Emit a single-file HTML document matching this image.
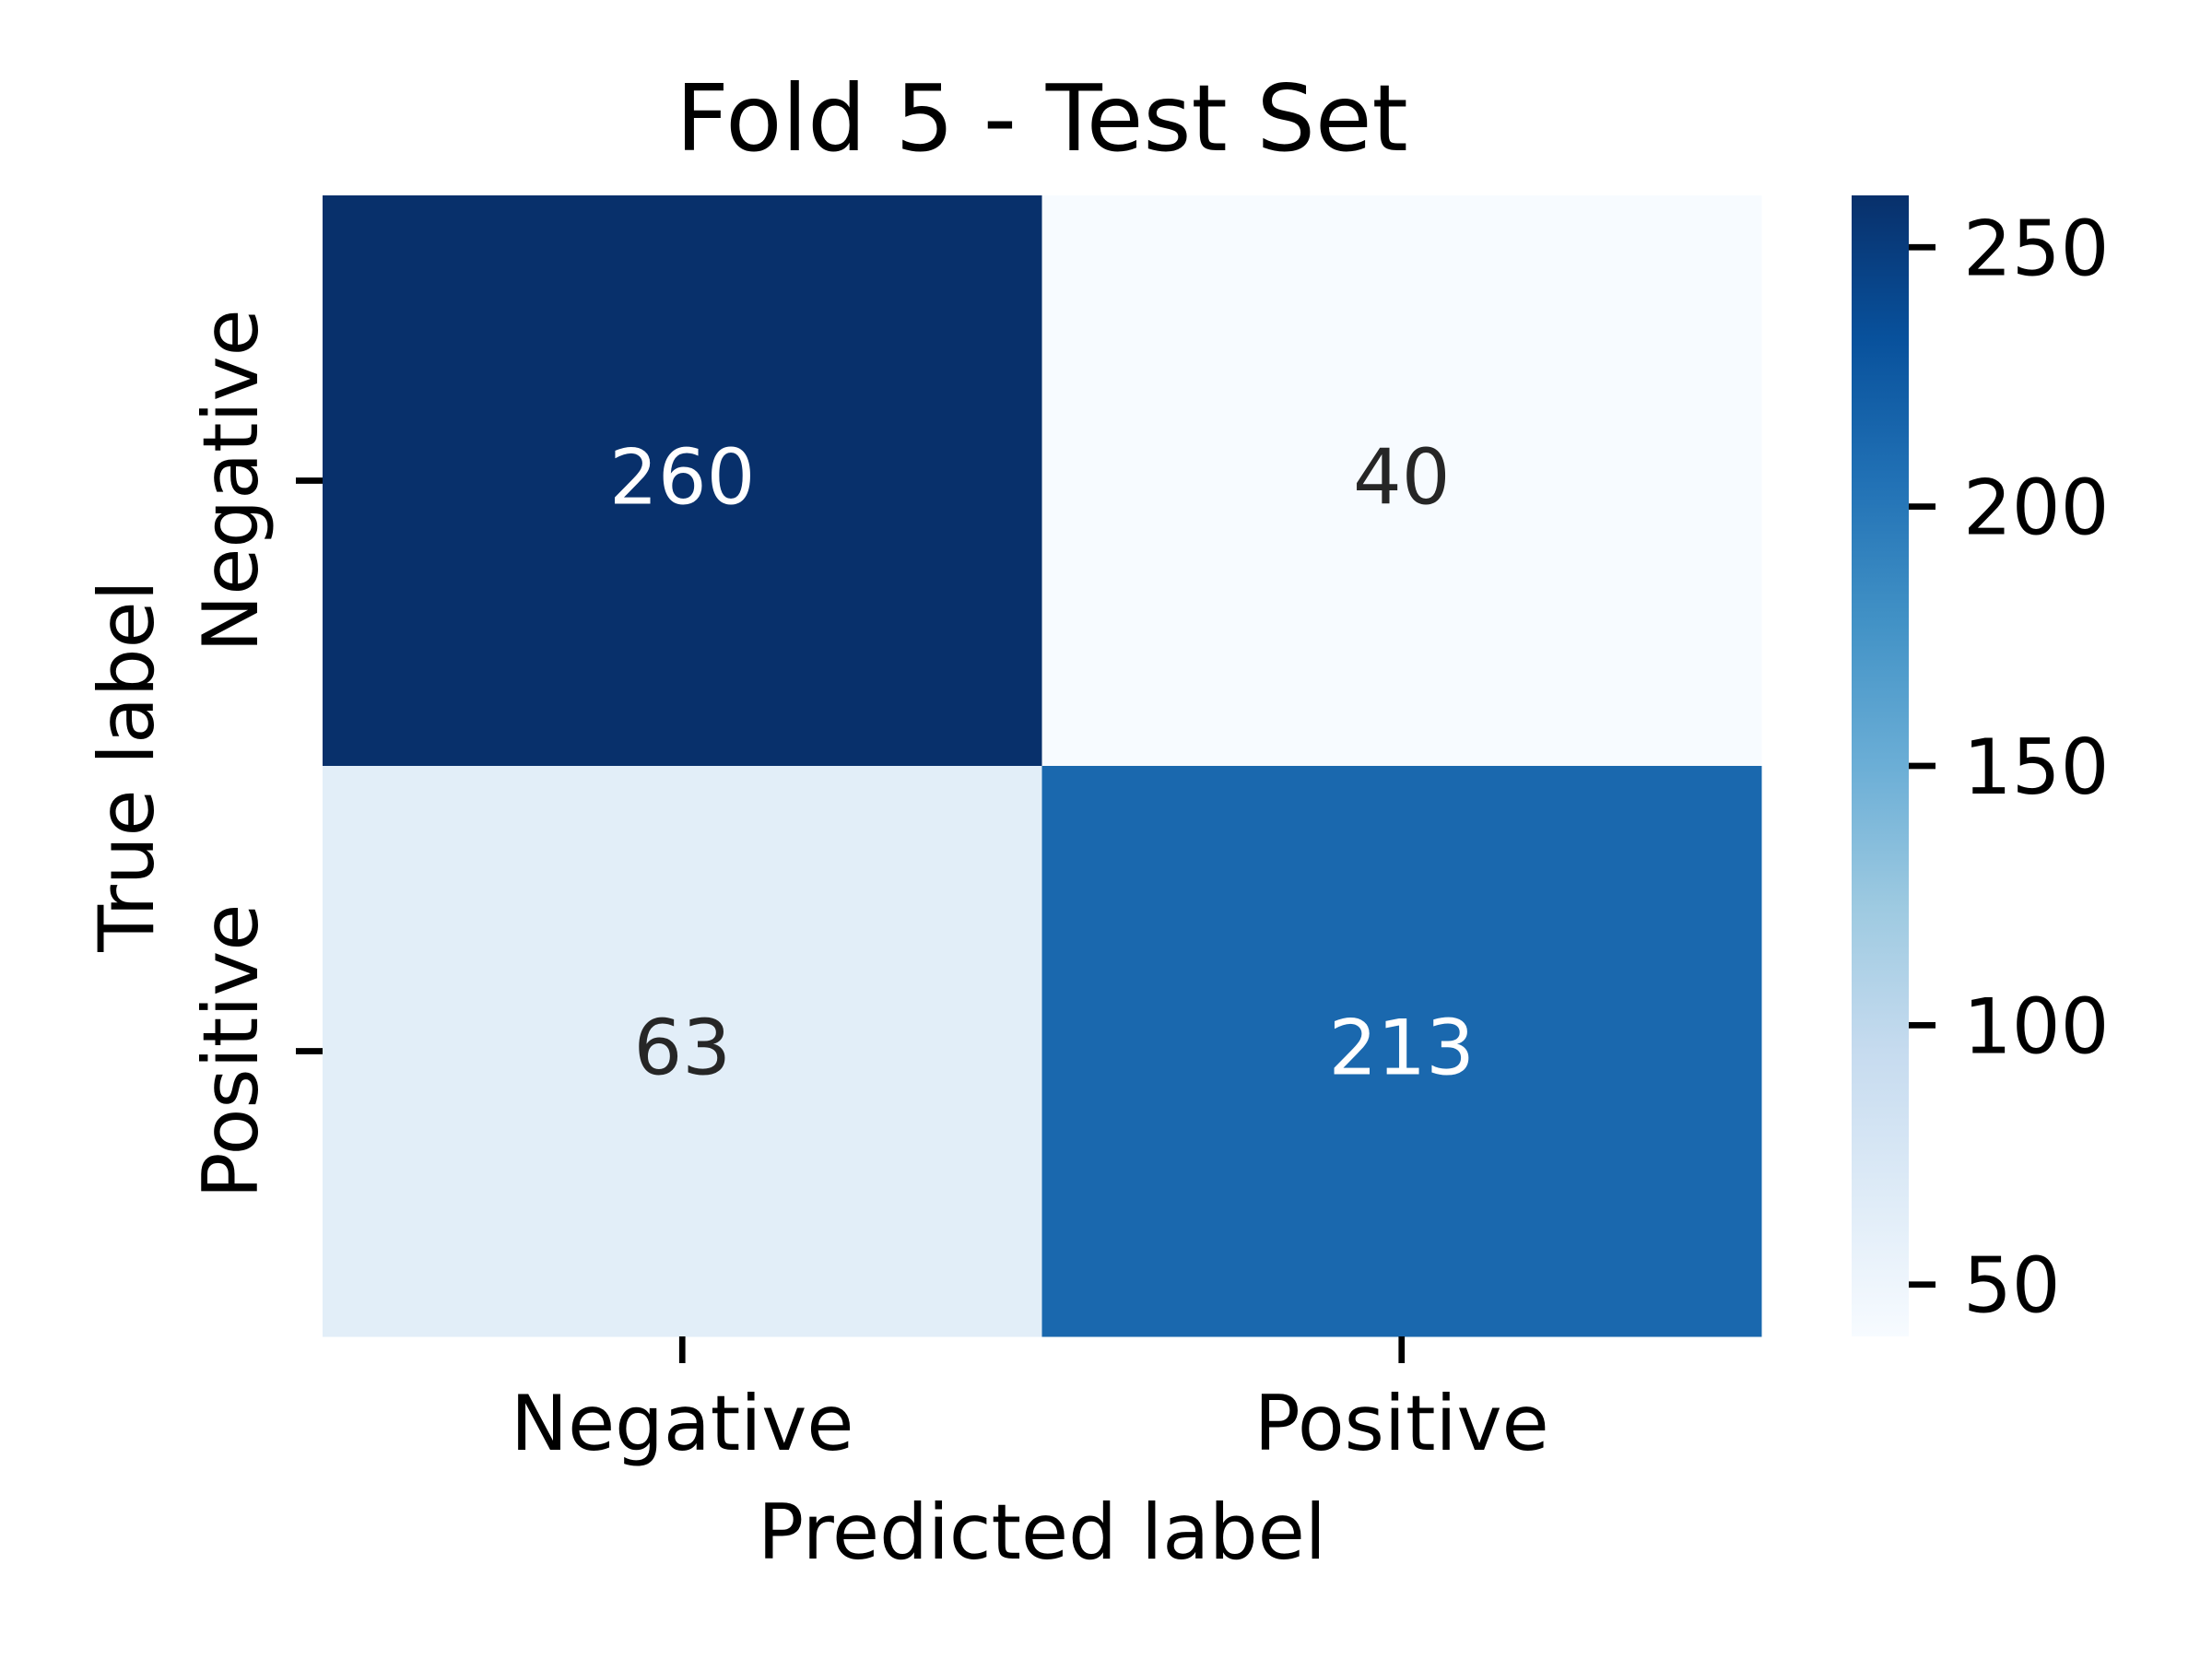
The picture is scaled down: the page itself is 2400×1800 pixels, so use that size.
<!DOCTYPE html>
<html><head><meta charset="utf-8"><style>
html,body{margin:0;padding:0;background:#fff;}
svg{display:block;font-family:"DejaVu Sans","Liberation Sans",sans-serif;}
</style></head><body>
<svg id="chart" width="2400" height="1800" viewBox="0 0 2400 1800" xmlns="http://www.w3.org/2000/svg">
<defs>
<linearGradient id="blues" x1="0" y1="1" x2="0" y2="0">
<stop offset="0" stop-color="#f7fbff"/><stop offset="0.125" stop-color="#deebf7"/><stop offset="0.25" stop-color="#c6dbef"/><stop offset="0.375" stop-color="#9ecae1"/><stop offset="0.5" stop-color="#6baed6"/><stop offset="0.625" stop-color="#4292c6"/><stop offset="0.75" stop-color="#2171b5"/><stop offset="0.875" stop-color="#08519c"/><stop offset="1" stop-color="#08306b"/>
</linearGradient>
</defs>
<text x="1130.5" y="163" font-size="100" text-anchor="middle">Fold 5 - Test Set</text>
<g id="cells"></g>
<g id="axes"></g>
<rect x="2009" y="212" width="62" height="1238" fill="url(#blues)"/>
<g id="cbar"></g>
<text x="1130.5" y="1691" font-size="83" text-anchor="middle">Predicted label</text>
<text transform="translate(166,831) rotate(-90)" font-size="83" text-anchor="middle">True label</text>
</svg>
<script>
const rowLabels = ["Negative", "Positive"];
const colLabels = ["Negative", "Positive"];
const matrix = [[260, 40], [63, 213]];
const cbarTicks = [50, 100, 150, 200, 250];
const vmin = 40, vmax = 260;

const NS = "http://www.w3.org/2000/svg";
const X0 = 350, X1 = 1911, Y0 = 212, Y1 = 1450;
const cw = (X1 - X0) / colLabels.length, ch = (Y1 - Y0) / rowLabels.length;
const stops = [[0,[247,251,255]],[0.125,[222,235,247]],[0.25,[198,219,239]],[0.375,[158,202,225]],[0.5,[107,174,214]],[0.625,[66,146,198]],[0.75,[33,113,181]],[0.875,[8,81,156]],[1,[8,48,107]]];
function blues(v){
  let t = Math.max(0, Math.min(1, (v - vmin) / (vmax - vmin)));
  for (let i = 0; i < stops.length - 1; i++) {
    const [a, ca] = stops[i], [b, cb] = stops[i+1];
    if (t <= b) { const f = (t - a) / (b - a); return "rgb(" + ca.map((c,k)=>Math.round(c + (cb[k]-c)*f)).join(",") + ")"; }
  }
  return "rgb(8,48,107)";
}
function mk(tag, attrs, parent){ const e = document.createElementNS(NS, tag); for (const k in attrs) e.setAttribute(k, attrs[k]); parent.appendChild(e); return e; }
const cells = document.getElementById("cells"), axes = document.getElementById("axes"), cbar = document.getElementById("cbar");
const xPos = i => X0 + cw * (i + 0.5), yPos = j => Y0 + ch * (j + 0.5);
const cbY = v => Y1 - (v - vmin) / (vmax - vmin) * (Y1 - Y0);

matrix.forEach((row, j) => row.forEach((v, i) => {
  const r = mk("rect", {x: X0 + cw*i, y: Y0 + ch*j, width: cw + 0.5, height: ch + 0.5, fill: blues(v)}, cells);
  
  
  const t = mk("text", {x: xPos(i), y: yPos(j) + 25, "font-size": 83, "text-anchor": "middle", fill: (v - vmin)/(vmax - vmin) > 0.5 ? "#ffffff" : "#262626"}, cells);
  t.textContent = v;
  
  
}));
colLabels.forEach((lab, i) => {
  const tk = mk("line", {x1: xPos(i), x2: xPos(i), y1: Y1, y2: Y1 + 29, stroke: "#000", "stroke-width": 6.7}, axes);
  
  
  const t = mk("text", {x: xPos(i), y: 1573, "font-size": 83, "text-anchor": "middle"}, axes);
  t.textContent = lab;
  
  
});
rowLabels.forEach((lab, j) => {
  const tk = mk("line", {x1: X0 - 29, x2: X0, y1: yPos(j), y2: yPos(j), stroke: "#000", "stroke-width": 6.7}, axes);
  
  
  const t = mk("text", {transform: "translate(279," + yPos(j) + ") rotate(-90)", "font-size": 83, "text-anchor": "middle"}, axes);
  t.textContent = lab;
  
  
});
cbarTicks.forEach(v => {
  const tk = mk("line", {x1: 2071, x2: 2100, y1: cbY(v), y2: cbY(v), stroke: "#000", "stroke-width": 6.7}, cbar);
  
  
  const t = mk("text", {x: 2130, y: cbY(v) + 30, "font-size": 83}, cbar);
  t.textContent = v;
  
  
});
</script>
</body></html>
